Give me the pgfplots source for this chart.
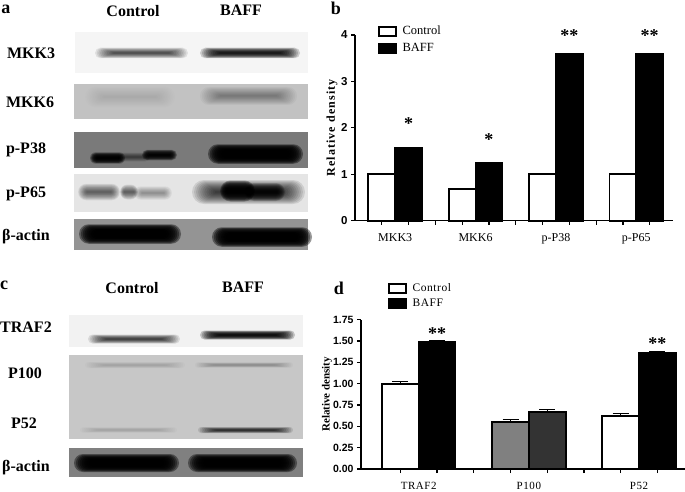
\documentclass[border=0pt]{standalone}
\usepackage{fontspec}
\setmainfont{Liberation Serif}
\newfontfamily\arial{Liberation Sans}
\newfontfamily\spaced[LetterSpace=9]{Liberation Serif}
\newfontfamily\spacedlight[LetterSpace=5]{Liberation Serif}
\usepackage{pgfplots}
\pgfplotsset{compat=1.18}

% blurred blot band: x1 x2 ycentre halfheight layer opacity
\newcommand{\band}[5]{\foreach \k in {0,...,11}{%
  \pgfmathsetmacro{\dy}{1.5*#4*\k/12}%
  \pgfmathsetmacro{\dx}{(#2-#1)*0.2*\k/11}%
  \pgfmathsetmacro{\rr}{1.5*#4-\dy}%
  \pgfmathsetmacro{\op}{#5*0.67}%
  \fill[black,opacity=\op,rounded corners=\rr pt] ({#1+\dx},{#3-1.5*#4+\dy}) rectangle ({#2-\dx},{#3+1.5*#4-\dy});}}
\newcommand{\panel}[5]{\fill[#5] (#1,#2) rectangle (#3,#4);}

\pgfplotsset{
  bars/.style={
    axis x line=bottom, axis y line=left, axis line style={-,line width=1.3pt},
    scale only axis, clip=false, enlargelimits=false,
    tick align=outside, major tick length=4pt,
    every tick/.append style={line width=1.2pt,black},
    extra x tick style={major tick length=0pt},
    ymin=0,
    legend cell align=left,
  },
  barp/.style={ybar,bar shift=0pt,bar width=1,draw=black,line width=1.8pt,fill=#1},
  errs/.style={error bars/.cd,y dir=plus,y explicit,
    error bar style={line width=1pt,black},
    error mark options={rotate=90,mark size=8pt,line width=1pt,black},/pgfplots/.cd},
  leg/.style={legend image code/.code={\draw[##1,line width=1.7pt] (0pt,-4.5pt) rectangle (17pt,4.5pt);}},
}

\begin{document}
\begin{tikzpicture}
\useasboundingbox (0,0) rectangle (685pt,491pt);

\begin{scope}[x=1pt,y=-1pt,yshift=491pt]
% panel a
\panel{75}{32}{308}{73}{black!4}
\band{95}{188}{53}{3.5}{0.13}
\band{200}{300}{53}{3.5}{0.25}
\panel{74}{84}{308}{119}{black!24}
\band{85}{175}{97}{7}{0.012}
\band{200}{297}{96}{6}{0.05}
\panel{74}{132}{308}{168}{black!52}
\band{90}{125}{158}{3.8}{0.4}
\band{118}{150}{157}{3}{0.08}
\band{142}{177}{155}{3.5}{0.35}
\band{208}{303}{154}{6.5}{0.6}
\panel{74}{174}{308}{212}{black!10}
\band{78}{120}{192}{5.5}{0.1}
\band{120}{138}{192}{5}{0.1}
\band{134}{172}{193}{4.5}{0.05}
\band{192}{305}{192}{8}{0.15}
\band{220}{255}{191}{7}{0.4}
\band{245}{285}{192}{6}{0.25}
\panel{74}{219}{308}{250}{black!42}
\band{79}{181}{234}{6.5}{0.6}
\band{212}{312}{237}{6.5}{0.6}
% panel c
\panel{69}{315}{303}{347}{black!5}
\band{88}{180}{339}{3}{0.15}
\band{200}{295}{335}{3}{0.3}
\panel{69}{355}{303}{439}{black!22}
\band{85}{185}{365}{2}{0.025}
\band{195}{293}{365}{1.8}{0.04}
\band{80}{177}{430}{1.8}{0.025}
\band{198}{293}{430}{2}{0.17}
\panel{69}{448}{303}{477}{black!50}
\band{74}{179}{463}{6}{0.6}
\band{188}{297}{463}{6}{0.6}

\node[font=\bfseries\fontsize{18}{18}\selectfont] at (6,9) {a};
\node[font=\bfseries\fontsize{18}{18}\selectfont] at (336,8) {b};
\node[font=\bfseries\fontsize{18}{18}\selectfont] at (4,285) {c};
\node[font=\bfseries\fontsize{18}{18}\selectfont] at (339,288) {d};
\tikzset{lab/.style={font=\bfseries\fontsize{16}{16}\selectfont,inner sep=0pt}}
\node[lab] at (133,11) {Control};
\node[lab] at (241,10) {BAFF};
\node[lab] at (31,53) {MKK3};
\node[lab] at (30,102) {MKK6};
\node[lab] at (26,150) {p-P38};
\node[lab] at (26,194) {p-P65};
\node[lab] at (26,237) {β-actin};
\node[lab] at (132,288) {Control};
\node[lab] at (243,287) {BAFF};
\node[lab] at (26,327) {TRAF2};
\node[lab] at (25,373) {P100};
\node[lab] at (24,423) {P52};
\node[lab] at (26,468) {β-actin};
\end{scope}

% panel b
\begin{axis}[bars,
  at={(355pt,270.3pt)}, anchor=south west,
  width=318pt, height=185.7pt,
  xmin=0, xmax=11.87, ymax=4,
  xtick={1,...,11}, xticklabels={},
  extra x ticks={1.5,4.5,7.5,10.5},
  extra x tick labels={MKK3,MKK6,p-P38,p-P65},
  x tick label style={font=\fontsize{12}{12}\selectfont,yshift=-9pt},
  ytick={0,1,2,3,4},
  y tick label style={font=\arial\bfseries\fontsize{11.5}{12}\selectfont},
  /pgf/number format/assume math mode=true,
  ylabel={Relative density},
  every axis y label/.style={at={(axis description cs:-0.072,0.5)},rotate=90,anchor=center,
    font=\spaced\bfseries\fontsize{12}{12}\selectfont},
  leg,
  legend style={at={(0.062,1.07)},anchor=north west,draw=none,fill=none,
    font=\fontsize{12.5}{14}\selectfont,row sep=3pt,column sep=4pt},
]
\addplot[barp=white] coordinates {(1,1) (4,0.68) (7,1) (10,1)};
\addplot[barp=black] coordinates {(2,1.575) (5,1.25) (8,3.6) (11,3.6)};
\legend{Control,BAFF}
\node[font=\bfseries\fontsize{18}{18}\selectfont] at (axis cs:2,2.1) {*};
\node[font=\bfseries\fontsize{18}{18}\selectfont] at (axis cs:5,1.74) {*};
\node[font=\bfseries\fontsize{18}{18}\selectfont] at (axis cs:8,3.98) {**};
\node[font=\bfseries\fontsize{18}{18}\selectfont] at (axis cs:11,3.98) {**};
\end{axis}

% panel d
\begin{axis}[bars,
  at={(361pt,22pt)}, anchor=south west,
  width=324pt, height=149.3pt,
  xmin=-0.07, xmax=8.75, ymax=1.75,
  xtick={1,...,8}, xticklabels={},
  extra x ticks={1.5,4.5,7.5},
  extra x tick labels={TRAF2,P100,P52},
  x tick label style={font=\spacedlight\fontsize{11}{11}\selectfont,yshift=-10pt},
  ytick={0,0.25,0.5,0.75,1,1.25,1.5,1.75},
  y tick label style={font=\arial\bfseries\fontsize{10.5}{11}\selectfont,
    /pgf/number format/fixed,/pgf/number format/fixed zerofill,/pgf/number format/precision=2},
  /pgf/number format/assume math mode=true,
  ylabel={Relative density},
  every axis y label/.style={at={(axis description cs:-0.105,0.5)},rotate=90,anchor=center,
    font=\bfseries\fontsize{11}{11}\selectfont},
  leg,
  legend style={at={(0.073,1.27)},anchor=north west,draw=none,fill=none,
    font=\spacedlight\fontsize{11.5}{13}\selectfont,row sep=2pt,column sep=4pt},
]
\addplot[barp=white,errs] coordinates {(1,1.00) +- (0,0.03) (7,0.62) +- (0,0.03)};
\addplot[barp=black,errs] coordinates {(2,1.49) +- (0,0.02) (8,1.36) +- (0,0.02)};
\addplot[barp={black!50},forget plot,errs] coordinates {(4,0.55) +- (0,0.03)};
\addplot[barp={black!80},forget plot,errs] coordinates {(5,0.67) +- (0,0.03)};
\legend{Control,BAFF}
\node[font=\bfseries\fontsize{18}{18}\selectfont] at (axis cs:2,1.59) {**};
\node[font=\bfseries\fontsize{18}{18}\selectfont] at (axis cs:8,1.47) {**};
\end{axis}
\end{tikzpicture}
\end{document}
